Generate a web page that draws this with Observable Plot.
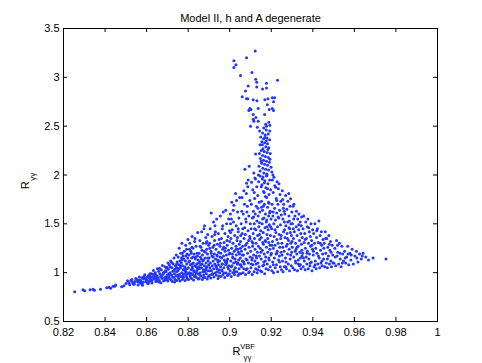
<!DOCTYPE html>
<html><head><meta charset="utf-8">
<script src="https://cdn.jsdelivr.net/npm/d3@7"></script>
<script src="https://cdn.jsdelivr.net/npm/@observablehq/plot@0.6"></script>
<style>body{margin:0;background:#fff;} svg{font-family:"Liberation Sans",Arial,sans-serif;}</style>
</head><body><div id="chart"></div>
<script>
const title = "Model II, h and A degenerate";
const xTicks = [0.82,0.84,0.86,0.88,0.9,0.92,0.94,0.96,0.98,1];
const yTicks = [0.5,1,1.5,2,2.5,3,3.5];

// left tail (x < 0.87)
const tailPts = [[.8254,.805],[.8294,.825],[.8302,.815],[.8328,.825],[.8342,.83],[.8349,.82],[.8378,.83],[.8408,.845],[.8419,.85],[.8427,.84],[.8438,.86],[.8451,.875],[.8447,.86],[.848,.856],[.8491,.866],[.8501,.89],[.8508,.917],[.8515,.897],[.8524,.92],[.8532,.90],[.8537,.882],[.8543,.91],[.8552,.93],[.8559,.875],[.8565,.955],[.8572,.92],[.858,.87],[.8585,.937],[.8591,.978],[.8596,.91],[.8604,.955],[.8607,.886],[.8616,.988],[.862,.93],[.8628,.955],[.8633,1.023],[.8639,.97],[.8644,.91],[.8652,1.04],[.8655,.944],[.8664,.988],[.8668,.897],[.8676,1.073],[.8684,1.005],[.8692,.955],[.8697,1.046],[.8703,1.10],[.8708,.988],
[.8561,.905],[.8569,.893],[.8577,.948],[.8583,.902],[.8594,.945],[.8601,.925],[.8612,.905],[.8618,.962],[.8625,.918],[.8631,.985],[.8637,.94],[.8642,1.0],[.8648,.925],[.8651,.965],[.8658,1.015],[.8661,.92],[.8667,.96],[.8671,1.03],[.8674,.94],[.8679,.985],[.8682,.915],[.8688,1.06],[.8691,1.02],[.8695,.93],[.8699,.975],[.8541,.885],[.8548,.94],[.8529,.93],[.8519,.876],[.8556,.91],[.8578,.885],[.8603,.897],[.8613,.945],[.8626,.895],[.8646,.955],[.8659,.905],[.8686,.948],[.8694,1.01]];

// body, 0.87 - 0.90
const bodyLeft = [[.8702,.915],[.8705,1.035],[.8707,.96],[.8709,1.08],[.8711,.94],[.8713,1.0],[.8716,1.12],[.8718,.925],[.872,.975],[.8722,1.05],[.8724,.91],[.8726,1.015],[.8728,1.09],[.873,.95],[.8732,1.15],[.8734,.99],[.8736,1.035],[.8737,.93],[.8739,1.07],[.8741,.965],[.8743,1.18],[.8744,1.01],[.8746,.92],[.8747,1.11],[.8748,1.045],[.8712,.985],[.8721,1.105],[.8735,.905],[.8742,1.06],[.8749,.975],
[.8751,1.02],[.8752,1.16],[.8754,.94],[.8755,1.08],[.8757,1.25],[.8758,.985],[.876,1.12],[.8761,.915],[.8763,1.05],[.8764,1.2],[.8766,.96],[.8767,1.1],[.8769,1.0],[.877,1.3],[.8772,.93],[.8773,1.07],[.8775,1.17],[.8776,1.03],[.8778,.95],[.8779,1.14],[.8781,1.22],[.8782,.99],[.8784,1.06],[.8785,.92],[.8787,1.12],[.8788,1.28],[.879,1.01],[.8791,.965],[.8793,1.09],[.8794,1.19],[.8795,1.04],[.8797,.935],[.8798,1.15],[.8799,1.34],[.8756,1.04],[.8768,1.15],[.8777,.975],[.8786,1.02],[.8792,1.24],[.8796,.99],
[.8801,1.05],[.8802,.93],[.8804,1.18],[.8805,1.0],[.8807,1.12],[.8808,1.3],[.881,.96],[.8811,1.08],[.8813,1.22],[.8814,1.03],[.8816,.94],[.8817,1.15],[.8819,1.37],[.882,1.06],[.8822,.98],[.8823,1.25],[.8825,1.1],[.8826,.925],[.8828,1.02],[.8829,1.19],[.8831,1.32],[.8832,1.07],[.8834,.97],[.8835,1.14],[.8837,1.0],[.8838,1.27],[.884,.95],[.8841,1.09],[.8843,1.2],[.8844,1.04],[.8846,1.41],[.8847,.99],[.8848,1.13],[.8849,.935],[.8806,1.24],[.8812,.995],[.8818,1.09],[.8824,1.16],[.8833,1.35],[.8839,1.06],[.8845,1.17],[.8827,1.01],
[.8851,1.06],[.8852,1.2],[.8853,.94],[.8855,1.11],[.8856,1.33],[.8858,1.0],[.8859,1.16],[.8861,.965],[.8862,1.26],[.8864,1.05],[.8865,1.42],[.8867,1.09],[.8868,.93],[.8869,1.18],[.8871,1.01],[.8872,1.3],[.8874,1.13],[.8875,.975],[.8877,1.22],[.8878,1.07],[.8879,1.48],[.8881,.95],[.8882,1.15],[.8884,1.03],[.8885,1.36],[.8886,1.1],[.8888,.99],[.8889,1.24],[.8891,1.06],[.8892,.935],[.8893,1.19],[.8894,1.39],[.8895,1.02],[.8896,1.12],[.8897,.96],[.8898,1.28],[.8899,1.08],[.8854,1.04],[.8863,1.14],[.8873,1.03],[.8876,1.45],[.8883,1.21],[.8887,1.05],[.889,1.32],[.886,1.08],
[.8901,1.15],[.8902,.97],[.8903,1.3],[.8905,1.05],[.8906,1.45],[.8907,1.1],[.8909,.945],[.891,1.22],[.8911,1.61],[.8912,1.02],[.8914,1.17],[.8915,1.37],[.8916,1.07],[.8918,.99],[.8919,1.26],[.892,1.12],[.8922,1.52],[.8923,1.04],[.8924,.955],[.8926,1.19],[.8927,1.33],[.8928,1.09],[.893,1.0],[.8931,1.42],[.8932,1.14],[.8934,1.24],[.8935,.975],[.8936,1.06],[.8937,1.55],[.8939,1.18],[.894,1.01],[.8941,1.29],[.8943,1.11],[.8944,.94],[.8945,1.4],[.8946,1.08],[.8947,1.21],[.8948,1.03],[.8949,1.34],[.8904,1.25],[.8913,.985],[.8921,1.16],[.8929,1.48],[.8938,1.04],[.8942,1.13],
[.8951,1.12],[.8952,1.0],[.8953,1.27],[.8955,1.58],[.8956,1.06],[.8957,1.2],[.8958,.96],[.896,1.35],[.8961,1.15],[.8962,1.03],[.8964,1.45],[.8965,1.09],[.8966,1.24],[.8968,.98],[.8969,1.62],[.897,1.17],[.8972,1.05],[.8973,1.31],[.8974,1.13],[.8976,.95],[.8977,1.4],[.8978,1.22],[.898,1.08],[.8981,1.64],[.8982,1.0],[.8984,1.18],[.8985,1.5],[.8986,1.1],[.8988,1.28],[.8989,.97],[.899,1.14],[.8992,1.37],[.8993,1.04],[.8994,1.23],[.8995,1.55],[.8996,1.07],[.8997,1.19],[.8998,.99],[.8999,1.43],[.8954,1.16],[.8963,1.02],[.8971,1.26],[.8979,1.11],[.8987,1.33],[.8991,1.06]];

// body, 0.90 - 0.925 (below the spike)
const bodyMid = [[.9001,1.2],[.9002,1.02],[.9003,1.6],[.9005,1.12],[.9006,1.35],[.9007,.96],[.9009,1.25],[.901,1.72],[.9011,1.07],[.9012,1.44],[.9014,1.16],[.9015,1.0],[.9016,1.3],[.9018,1.52],[.9019,1.1],[.902,1.69],[.9022,1.22],[.9023,.98],[.9024,1.38],[.9026,1.14],[.9027,1.05],[.9028,1.81],[.903,1.27],[.9031,1.48],[.9032,1.18],[.9034,1.01],[.9035,1.33],[.9036,1.09],[.9038,1.62],[.9039,1.24],[.904,.97],[.9041,1.42],[.9043,1.13],[.9044,1.56],[.9045,1.04],[.9046,1.29],[.9047,1.19],[.9048,1.77],[.9049,1.08],[.9004,1.41],[.9013,1.19],[.9021,1.03],[.9029,1.11],[.9037,1.36],[.9042,1.21],[.9008,1.55],[.9017,1.64],[.9033,1.74],
[.9051,1.15],[.9052,1.32],[.9053,.99],[.9055,1.5],[.9056,1.22],[.9057,1.06],[.9059,1.77],[.906,1.4],[.9061,1.12],[.9062,1.27],[.9064,1.0],[.9065,1.6],[.9066,1.18],[.9068,1.84],[.9069,1.35],[.907,1.09],[.9072,1.46],[.9073,2.06],[.9074,1.24],[.9076,.98],[.9077,1.55],[.9078,1.14],[.908,1.81],[.9081,1.915],[.9082,1.3],[.9084,1.04],[.9085,1.68],[.9086,1.2],[.9088,1.43],[.9089,1.95],[.909,1.1],[.9092,1.58],[.9093,1.26],[.9094,2.09],[.9095,1.01],[.9096,1.37],[.9097,1.74],[.9098,1.16],[.9099,1.5],[.9054,1.08],[.9063,1.45],[.9071,1.7],[.9079,1.03],[.9083,1.62],[.9087,1.88],[.9091,1.33],[.9058,1.63],[.9067,1.11],[.9075,1.39],[.9052,1.25],
[.9101,1.22],[.9102,1.05],[.9103,1.45],[.9104,1.7],[.9105,1.925],[.9106,1.13],[.9107,1.32],[.9108,.98],[.9109,1.56],[.911,1.27],[.9111,1.85],[.9112,1.08],[.9113,1.4],[.9114,1.63],[.9115,1.18],[.9116,2.02],[.9117,1.01],[.9118,1.5],[.9119,1.35],[.912,1.76],[.9121,1.12],[.9122,1.24],[.9123,1.6],[.9124,1.96],[.9125,1.04],[.9126,1.44],[.9127,1.3],[.9128,1.68],[.9129,1.15],[.913,1.88],[.9131,1.53],[.9132,1.0],[.9133,1.21],[.9134,1.38],[.9135,1.79],[.9136,1.1],[.9137,1.58],[.9138,1.27],[.9139,1.93],[.914,1.47],[.9141,1.06],[.9142,1.72],[.9143,1.17],[.9144,1.34],[.9145,1.62],[.9146,1.99],[.9147,1.25],[.9148,1.02],[.9149,1.43],[.9109,1.15],[.9118,1.82],[.9127,1.09],[.9136,1.66],[.9143,1.51],[.9121,1.97],
[.9151,1.14],[.9152,1.36],[.9153,1.73],[.9154,1.01],[.9155,1.9],[.9156,1.5],[.9157,1.23],[.9158,1.64],[.9159,1.07],[.916,1.98],[.9161,1.41],[.9162,1.29],[.9163,1.83],[.9164,1.11],[.9165,1.56],[.9166,1.19],[.9167,1.7],[.9168,.99],[.9169,1.94],[.917,1.46],[.9171,1.33],[.9172,1.6],[.9173,1.16],[.9174,1.87],[.9175,1.04],[.9176,1.52],[.9177,1.26],[.9178,1.77],[.9179,1.39],[.918,2.0],[.9181,1.09],[.9182,1.67],[.9183,1.21],[.9184,1.91],[.9185,1.44],[.9186,1.03],[.9187,1.58],[.9188,1.31],[.9189,1.8],[.919,1.13],[.9191,1.49],[.9192,1.95],[.9193,1.24],[.9194,1.62],[.9195,1.06],[.9196,1.38],[.9197,1.85],[.9198,1.18],[.9199,1.55],[.9152,1.88],[.9157,1.96],[.9162,1.68],[.9167,1.92],[.9172,1.78],[.9177,1.99],[.9182,1.86],[.9187,1.72],[.9192,1.61],[.9197,1.47],[.9159,1.31],[.9171,1.12],[.9183,1.35],[.9194,1.28],[.9166,1.82],[.9178,1.54],
[.9201,1.2],[.9202,1.45],[.9203,1.02],[.9204,1.7],[.9205,1.95],[.9206,1.32],[.9207,1.11],[.9208,1.58],[.9209,1.82],[.921,1.25],[.9211,1.0],[.9212,1.5],[.9213,1.977],[.9214,1.37],[.9215,1.15],[.9216,1.66],[.9217,1.89],[.9218,1.28],[.9219,1.05],[.922,1.54],[.9221,1.874],[.9222,1.41],[.9223,1.19],[.9224,1.76],[.9225,1.08],[.9226,1.61],[.9227,1.34],[.9228,1.93],[.9229,1.22],[.923,1.47],[.9231,1.01],[.9232,1.7],[.9233,1.3],[.9234,1.86],[.9235,1.13],[.9236,1.56],[.9237,1.91],[.9238,1.39],[.9239,1.17],[.924,1.64],[.9241,1.26],[.9242,1.8],[.9243,1.06],[.9244,1.49],[.9245,1.35],[.9246,1.73],[.9247,1.21],[.9248,1.59],[.9249,1.03],[.9209,1.62]];

// extra points in the dense lower part of the cloud
const bodyDense = [[.8563,.925],[.8574,.905],[.8587,.96],[.8598,.93],[.8609,.97],[.8615,.92],[.8623,.99],[.8634,.935],[.8643,.975],[.8653,.915],[.8662,1.045],[.8672,.965],[.8681,1.0],[.8689,.925],[.8698,1.055],
[.8703,.945],[.8714,1.06],[.8725,.955],[.8731,1.02],[.8745,1.09],[.8753,.96],[.8762,1.07],[.8771,1.13],[.8774,.955],[.8783,1.04],[.8789,1.17],[.8794,.945],[.8803,1.11],[.8809,.975],[.8815,1.2],[.8821,1.04],[.883,.96],[.8836,1.16],[.8842,1.02],[.885,1.1],[.8857,.975],[.8866,1.23],[.887,1.12],[.888,1.01],[.8887,1.3],[.8895,1.15],[.8873,.95],[.8858,1.27],[.8818,1.26],[.8772,1.2],
[.8904,1.02],[.8911,1.2],[.8917,.985],[.8925,1.28],[.8933,1.07],[.894,1.17],[.8947,.965],[.8955,1.3],[.8963,1.09],[.8971,1.0],[.8979,1.25],[.8986,1.12],[.8993,.98],[.9,1.32],[.9008,1.06],[.9016,1.15],[.9024,1.01],[.9031,1.24],[.9039,1.1],[.9046,.99],[.9053,1.38],[.9061,1.18],[.9068,1.04],[.9076,1.28],[.9084,1.13],[.9091,1.0],[.9098,1.35],[.8928,1.39],[.8966,1.48],[.9004,1.5],[.9041,1.45],[.9079,1.52],
[.9104,1.09],[.9112,1.3],[.912,1.45],[.9128,1.17],[.9135,1.03],[.9143,1.39],[.915,1.21],[.9158,1.55],[.9165,1.08],[.9173,1.32],[.918,1.47],[.9188,1.15],[.9195,1.63],[.9203,1.28],[.921,1.08],[.9218,1.44],[.9226,1.2],[.9233,1.57],[.924,1.11],[.9248,1.38],[.9255,1.26],[.9263,1.52],[.927,1.06],[.9278,1.35],[.9285,1.46],[.9293,1.18],[.93,1.32],[.9308,1.55],[.9316,1.12],[.9324,1.26],[.9332,1.49],[.934,1.08],[.9347,1.23],[.9115,1.57],[.9153,1.67],[.9189,1.71],[.9226,1.74],[.9262,1.63],
[.9355,1.15],[.9363,1.34],[.9372,1.2],[.938,1.46],[.9387,1.1],[.9395,1.28],[.9403,1.22],[.9411,1.08],[.9419,1.43],[.9427,1.17],[.9436,1.3],[.9444,1.12],[.9453,1.25],[.9462,1.35],[.947,1.14],[.9479,1.29],[.9488,1.21],[.9497,1.1],[.9508,1.16],[.9519,1.28],[.9531,1.2],[.9542,1.1],[.9556,1.15],[.957,1.19],[.9585,1.18],[.9612,1.15],[.9638,1.17]];

// spike (R above ~2)
const spike = [[.9123,3.27],[.9081,3.20],[.902,3.17],[.903,3.13],[.902,3.10],[.9052,3.02],[.9107,3.05],[.9125,2.98],[.913,2.95],[.923,2.97],[.9177,2.94],[.9089,2.91],[.913,2.90],[.9177,2.89],[.9158,2.88],[.9076,2.86],[.906,2.80],[.9081,2.78],[.9087,2.78],[.9113,2.77],[.9131,2.76],[.9169,2.77],[.9184,2.78],[.9205,2.79],[.9216,2.79],[.9211,2.75],[.9181,2.72],[.9097,2.68],[.9102,2.67],[.9092,2.66],[.9137,2.68],[.919,2.67],[.9205,2.68],[.9211,2.66],[.9113,2.62],[.9113,2.57],[.9126,2.59],[.9116,2.55],[.9168,2.62],[.910,2.50],[.9137,2.55],[.9188,2.54],[.9173,2.52],[.9177,2.50],[.9193,2.51],[.9133,2.49],[.9164,2.48],[.9176,2.46],[.9193,2.45],[.9144,2.45],
[.9158,2.43],[.9171,2.41],[.9185,2.42],[.9149,2.39],[.9163,2.37],[.9179,2.38],[.9192,2.36],[.9155,2.34],[.9168,2.33],[.9182,2.32],[.9146,2.31],[.9174,2.29],[.9188,2.28],[.916,2.27],[.9152,2.25],[.9166,2.24],[.918,2.23],[.9195,2.22],[.9125,2.216],[.9158,2.2],[.9172,2.19],[.9186,2.18],[.9148,2.17],[.9163,2.15],[.9177,2.14],[.9191,2.13],[.9154,2.12],[.9168,2.11],[.9182,2.1],[.9141,2.09],[.9199,2.08],[.9159,2.07],[.9173,2.06],[.9187,2.05],[.9146,2.04],[.9203,2.03],[.9164,2.02],[.9178,2.01],[.9138,2.0],[.9208,2.0],[.9169,2.385],[.9157,2.31],[.9184,2.26],[.9151,2.14],[.9176,2.35],[.9194,2.16],[.9143,2.22]];

// right wing (x >= 0.925)
const wing = [[.9251,1.3],[.9253,1.84],[.9254,1.12],[.9256,1.55],[.9257,1.01],[.9259,1.42],[.926,1.7],[.9262,1.22],[.9263,1.06],[.9265,1.6],[.9266,1.36],[.9268,1.15],[.9269,1.79],[.927,1.48],[.9272,1.27],[.9273,1.04],[.9275,1.65],[.9276,1.4],[.9278,1.19],[.9279,1.52],[.928,1.73],[.9282,1.09],[.9283,1.33],[.9285,1.58],[.9286,1.24],[.9288,1.02],[.9289,1.45],[.929,1.68],[.9291,1.14],[.9293,1.756],[.9294,1.3],[.9295,1.5],[.9296,1.07],[.9297,1.38],[.9298,1.21],[.9299,1.62],[.9252,1.18],[.9258,1.66],[.9264,1.44],[.9271,1.11],[.9277,1.29],[.9284,1.81],[.9287,1.53],[.9292,1.41],[.9255,1.75],
[.9301,1.26],[.9302,1.5],[.9304,1.05],[.9305,1.68],[.9307,1.35],[.9308,1.16],[.9309,1.7],[.9311,1.42],[.9312,1.03],[.9314,1.58],[.9315,1.22],[.9317,1.3],[.9318,1.1],[.932,1.47],[.9321,1.63],[.9323,1.19],[.9324,1.38],[.9326,1.02],[.9327,1.55],[.9329,1.27],[.933,1.13],[.9332,1.44],[.9333,1.6],[.9335,1.07],[.9336,1.33],[.9338,1.21],[.9339,1.52],[.934,1.15],[.9342,1.4],[.9343,1.04],[.9345,1.29],[.9346,1.57],[.9348,1.17],[.9349,1.36],[.9306,1.45],[.9319,1.24],[.9331,1.09],[.9344,1.48],
[.9351,1.2],[.9353,1.45],[.9354,1.06],[.9356,1.58],[.9358,1.31],[.9359,1.12],[.9361,1.4],[.9363,1.03],[.9364,1.25],[.9366,1.52],[.9368,1.16],[.9369,1.35],[.9371,1.09],[.9373,1.47],[.9374,1.22],[.9376,1.55],[.9378,1.04],[.9379,1.3],[.9381,1.14],[.9383,1.42],[.9384,1.19],[.9386,1.07],[.9388,1.37],[.9389,1.27],[.9391,1.5],[.9393,1.11],[.9394,1.33],[.9396,1.02],[.9398,1.24],[.9399,1.44],
[.9402,1.18],[.9404,1.4],[.9406,1.06],[.9408,1.3],[.941,1.5],[.9412,1.12],[.9414,1.25],[.9416,1.04],[.9418,1.36],[.942,1.2],[.9422,1.45],[.9424,1.09],[.9426,1.31],[.9429,1.53],[.9431,1.15],[.9433,1.05],[.9435,1.38],[.9437,1.23],[.9439,1.1],[.9441,1.42],[.9443,1.28],[.9445,1.07],[.9447,1.19],[.9449,1.34],
[.9452,1.14],[.9455,1.3],[.9457,1.06],[.946,1.42],[.9462,1.2],[.9465,1.1],[.9467,1.35],[.947,1.05],[.9472,1.26],[.9475,1.17],[.9477,1.38],[.948,1.09],[.9482,1.23],[.9485,1.32],[.9487,1.12],[.949,1.06],[.9493,1.28],[.9496,1.18],
[.9502,1.1],[.9506,1.25],[.951,1.07],[.9514,1.33],[.9517,1.17],[.952,1.21],[.9524,1.09],[.9528,1.3],[.9532,1.14],[.9536,1.06],[.954,1.27],[.9544,1.19],[.9548,1.12],
[.9553,1.22],[.9558,1.1],[.9563,1.16],[.9568,1.27],[.9573,1.08],[.9578,1.2],[.9583,1.13],[.9589,1.24],[.9595,1.09],
[.9603,1.17],[.961,1.22],[.9617,1.11],[.9625,1.19],[.9633,1.14],[.9642,1.2],[.9655,1.16],[.9668,1.13],[.969,1.15],[.9752,1.14]];

const points = [...tailPts, ...bodyLeft, ...bodyMid, ...bodyDense, ...spike, ...wing].map(([x, y]) => ({x, y}));

const W = 482, H = 363;
const mL = 63, mR = 45, mT = 28, mB = 42;
const fw = W - mL - mR, fh = H - mT - mB;
const tl = 4;

const plot = Plot.plot({
  width: W, height: H,
  marginLeft: mL, marginRight: mR, marginTop: mT, marginBottom: mB,
  style: {fontFamily: "Liberation Sans, Arial, sans-serif", fontSize: "11px", color: "#000", background: "#fff", overflow: "visible"},
  x: {domain: [0.82, 1]},
  y: {domain: [0.5, 3.5]},
  marks: [
    Plot.dot(points, {x: "x", y: "y", r: 1.5, fill: "#2336ff", stroke: null}),
    Plot.frame({stroke: "#000", strokeWidth: 1}),
    Plot.tickX(xTicks, {x: d => d, insetTop: fh - tl, stroke: "#000"}),
    Plot.tickX(xTicks, {x: d => d, insetBottom: fh - tl, stroke: "#000"}),
    Plot.tickY(yTicks, {y: d => d, insetLeft: fw - tl, stroke: "#000"}),
    Plot.tickY(yTicks, {y: d => d, insetRight: fw - tl, stroke: "#000"}),
    Plot.axisX(xTicks, {tickSize: 0, tickPadding: 7, tickFormat: d => String(d), label: null, fontSize: 11}),
    Plot.axisY(yTicks, {tickSize: 0, tickPadding: 4, tickFormat: d => String(d), label: null, fontSize: 11}),
    Plot.text([title], {frameAnchor: "top", dy: -14, fontSize: 11, fill: "#000"})
  ]
});

const svg = d3.select(plot);
const font = "Liberation Sans, Arial, sans-serif";
// x axis label: R with subscript γγ and superscript VBF, in one text element
const xt = svg.append("text").attr("font-family", font).attr("fill", "#000").attr("font-size", 11)
  .attr("x", 236.5).attr("y", 355);
xt.append("tspan").text("R");
xt.append("tspan").attr("x", 247.5).attr("dy", -6.5).attr("font-size", 7.5).text("VBF");
xt.append("tspan").attr("x", 247.5).attr("dy", 11).attr("font-size", 8).text("γγ");
// y axis label: R with subscript γγ, rotated
const yt = svg.append("text").attr("font-family", font).attr("fill", "#000").attr("font-size", 11)
  .attr("transform", "translate(28.5,174) rotate(-90)").attr("x", -7).attr("y", 0);
yt.append("tspan").text("R");
yt.append("tspan").attr("dx", 0.5).attr("dy", 6).attr("font-size", 8).text("γγ");

document.getElementById("chart").appendChild(plot);
</script>
</body></html>
